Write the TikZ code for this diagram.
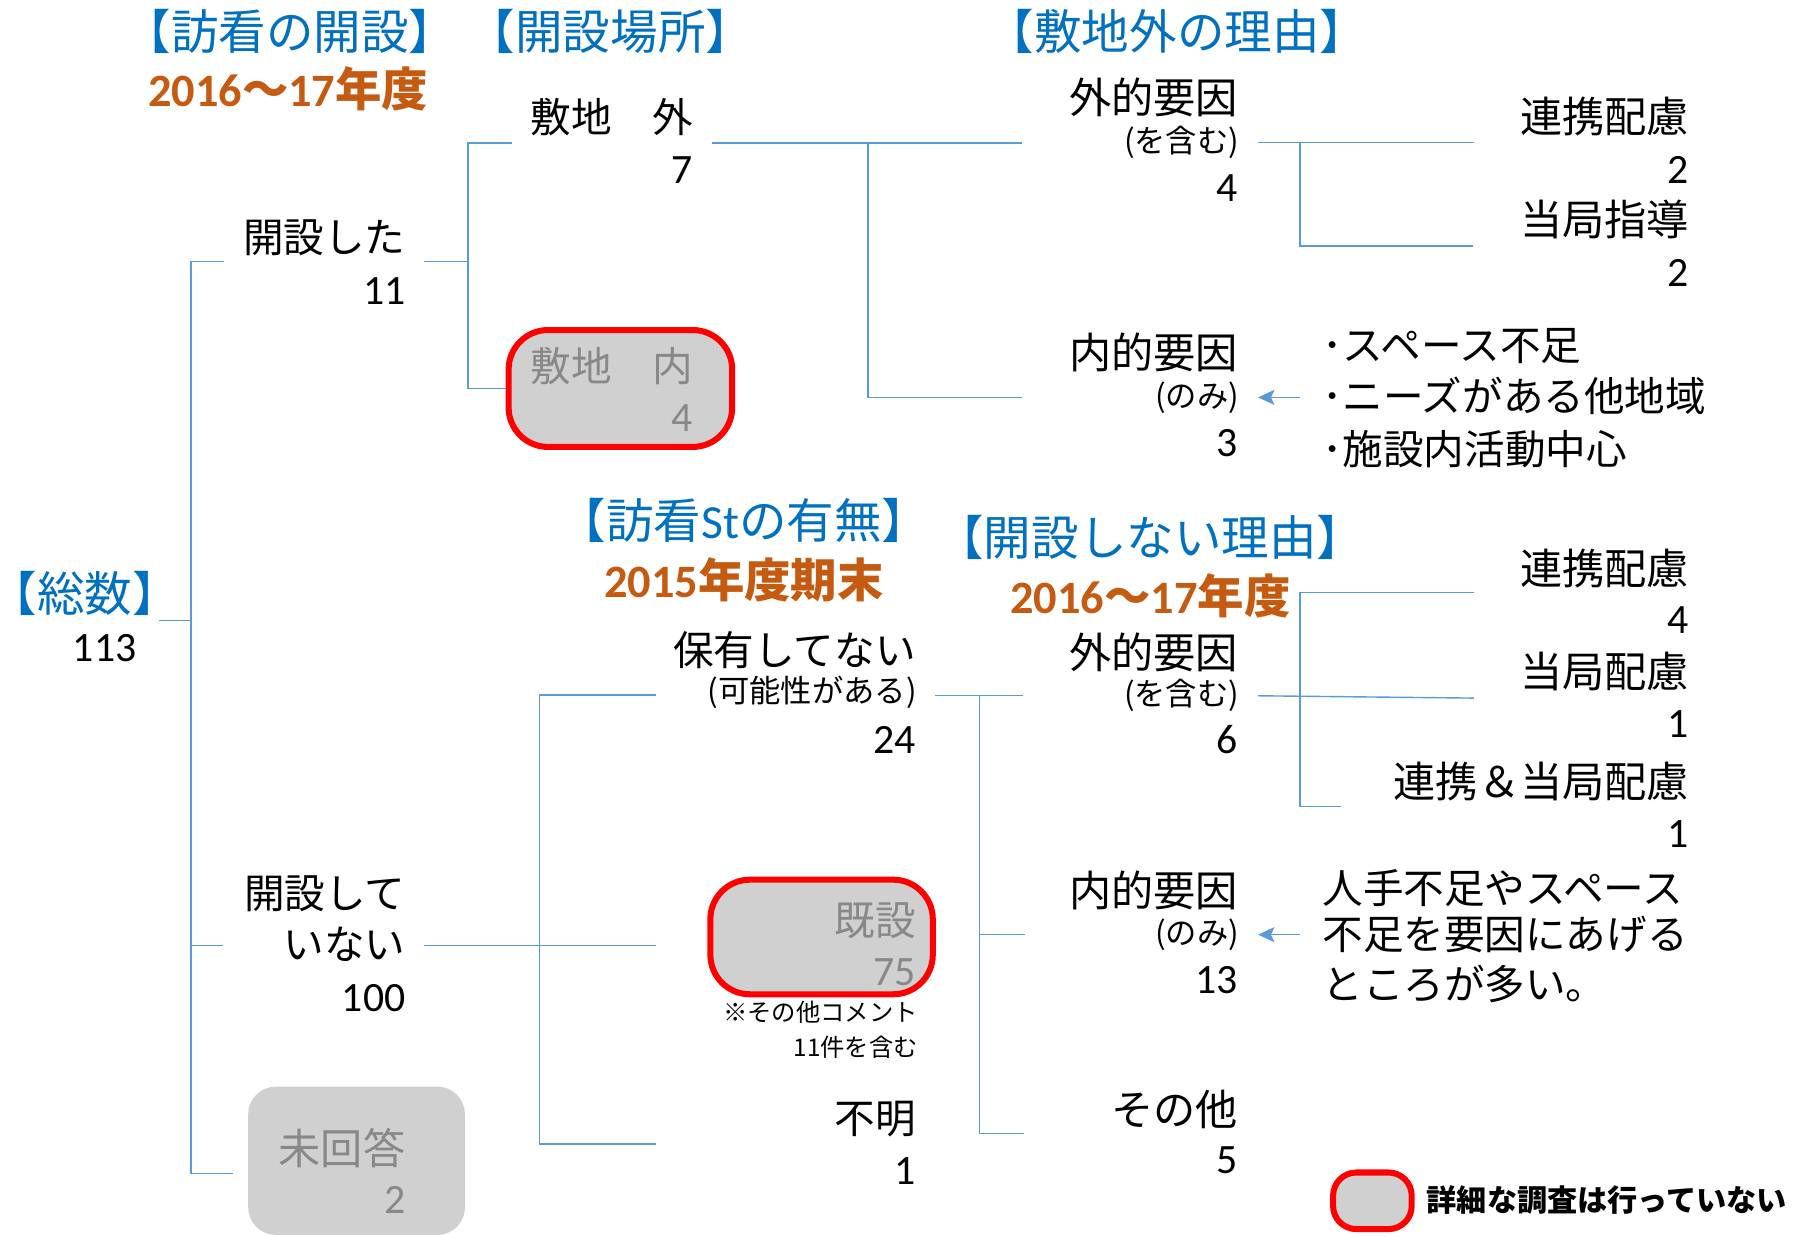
\documentclass[tikz,border=0pt]{standalone}
\usepackage{fontspec}
\setmainfont{Noto Sans CJK JP}
\newfontfamily\lat{Carlito}
\usetikzlibrary{arrows.meta}
\definecolor{hblue}{HTML}{0070C0}
\definecolor{horange}{HTML}{C55A11}
\definecolor{lblue}{HTML}{5B9BD5}
\definecolor{gfill}{HTML}{D0D0D0}
\definecolor{gtext}{HTML}{888888}
\definecolor{bred}{HTML}{FF0000}
\tikzset{
  lbl/.style={anchor=east, inner sep=0pt, font=\fontsize{17.5}{20}\selectfont},
  lblk/.style={anchor=east, inner sep=0pt, font=\fontsize{18.2}{20}\selectfont},
  num/.style={anchor=east, inner sep=0pt, font=\lat\fontsize{18}{20}\selectfont},
  sm/.style={anchor=east, inner sep=0pt, font=\fontsize{13.5}{15}\selectfont},
  xs/.style={anchor=east, inner sep=0pt, font=\fontsize{10.5}{12}\selectfont},
  note/.style={anchor=west, inner sep=0pt, font=\fontsize{17.5}{20}\selectfont},
  leg/.style={anchor=west, inner sep=0pt, font=\bfseries\fontsize{13}{15}\selectfont},
  hdr/.style={inner sep=0pt, text=hblue, font=\fontsize{20.5}{24}\selectfont},
  yr/.style={inner sep=0pt, text=horange, font=\bfseries\fontsize{20}{24}\selectfont},
  conn/.style={draw=lblue, line width=0.6pt},
  arr/.style={conn, -{Stealth[length=7pt, width=6.5pt, inset=1.5pt]}},
  redbox/.style={draw=bred, fill=gfill, line width=2.6pt, rounded corners=17pt, inner sep=0pt},
  greybox/.style={fill=gfill, rounded corners=12pt, inner sep=0pt},
}
\begin{document}
\begin{tikzpicture}[x=0.5pt, y=-0.5pt]
\fill[white] (0,0) rectangle (1560,1066.7);
\useasboundingbox (0,0) rectangle (1560,1066.7);

% ---------- connector coordinates ----------
\coordinate (A0) at (137,535);
\coordinate (A1) at (193,225.7);
\coordinate (A2) at (192,815.4);
\coordinate (A3) at (201,1012);
\coordinate (Aj) at (164.6,1012);

\coordinate (B0) at (366,225.7);
\coordinate (B1) at (441.5,123.4);
\coordinate (Bj) at (403.5,225.7);

\coordinate (C0) at (613.9,123.4);
\coordinate (C1) at (881,123.4);
\coordinate (Cj) at (748.5,123.4);
\coordinate (C2) at (881,342.7);

\coordinate (D0) at (1085,122.7);
\coordinate (D1) at (1271,122.7);
\coordinate (Dj) at (1121,122.7);
\coordinate (D2) at (1270,212);

\coordinate (E0) at (1121,342.7);
\coordinate (E1) at (1085,342.7);

\coordinate (F0) at (365.9,815.4);
\coordinate (F1) at (565.5,599.4);
\coordinate (F2) at (565.5,815.4);
\coordinate (F3) at (565.5,986.4);
\coordinate (Fj) at (465,815.4);

\coordinate (G0) at (806,600);
\coordinate (G1) at (882,600);
\coordinate (Gj) at (844.6,600);
\coordinate (G2) at (883.6,806);
\coordinate (G3) at (883,977.5);

\coordinate (H0) at (1085,600);
\coordinate (H1) at (1271,511);
\coordinate (H2) at (1271,602);
\coordinate (H3) at (1156,695.4);
\coordinate (Hj) at (1121,601);

\coordinate (I0) at (1121,806);
\coordinate (I1) at (1085,806);

% ---------- boxes ----------
\node[redbox, minimum width=96.4pt, minimum height=50.4pt] (nai) at (535,335) {};
\node[redbox, minimum width=95.9pt, minimum height=49.4pt] (kisetsu) at (708.5,808) {};
\node[greybox, minimum width=93.5pt, minimum height=64pt] (mikaitou) at (307.5,1001) {};
\node[redbox, rounded corners=10pt, minimum width=33.9pt, minimum height=24.4pt] (legbox) at (1183.5,1035.5) {};

% ---------- connectors ----------
\draw[conn] (A1) -| (Aj) -- (A3);
\draw[conn] (A0) -- (A0 -| Aj);
\draw[conn] (A2) -- (A2 -| Aj);

\draw[conn] (B0) -- (Bj);
\draw[conn] (B1) -| (Bj) |- (nai.west);

\draw[conn] (C0) -- (C1);
\draw[conn] (Cj) |- (C2);

\draw[conn] (D0) -- (D1);
\draw[conn] (Dj) |- (D2);
\draw[arr] (E0) -- (E1);

\draw[conn] (F0) -- (F2);
\draw[conn] (F1) -| (Fj) |- (F3);

\draw[conn] (G0) -- (G1);
\draw[conn] (Gj) |- (G3);
\draw[conn] (G2 -| Gj) -- (G2);

\draw[conn] (H0) -- (H2);
\draw[conn] (H1) -| (Hj) |- (H3);
\draw[arr] (I0) -- (I1);

% ---------- headers ----------
\node[hdr] (h-kaisetsu) at (250,27.3) {【訪看の開設】};
\node[yr] (y-kaisetsu) at (248.5,76.7) {{\lat 2016}～{\lat 17}年度};
\node[hdr] (h-basho) at (526.5,27) {【開設場所】};
\node[hdr] (h-shikichigai) at (1015,27.3) {【敷地外の理由】};
\node[hdr] (h-st) at (641.5,449) {【訪看{\lat St}の有無】};
\node[yr] (y-st) at (641.5,500) {{\lat 2015}年度期末};
\node[hdr] (h-shinai) at (992,463.7) {【開設しない理由】};
\node[yr] (y-shinai) at (992,514) {{\lat 2016}～{\lat 17}年度};
\node[hdr] (h-total) at (73,512) {【総数】};
\node[num] (n-total) at (118,559) {113};

% ---------- upper tree ----------
\node[lbl] (t-kaisetsu) at (350,204.6) {開設した};
\node[num] (n-kaisetsu) at (350,250.6) {11};
\node[lbl] (t-gai) at (598,100.6) {敷地　外};
\node[num] (n-gai) at (598,146.6) {7};
\node[lbl, text=gtext] (t-nai) at (598,315.4) {敷地　内};
\node[num, text=gtext] (n-nai) at (598,360.7) {4};
\node[lblk] (t-ext1) at (1068,84.3) {外的要因};
\node[sm] (s-ext1) at (1069,122.7) {(を含む)};
\node[num] (n-ext1) at (1068,162) {4};
\node[lblk] (t-renkei1) at (1457,100.6) {連携配慮};
\node[num] (n-renkei1) at (1457,146.6) {2};
\node[lblk] (t-shido) at (1457,189) {当局指導};
\node[num] (n-shido) at (1457,235) {2};
\node[lblk] (t-int1) at (1068,303.5) {内的要因};
\node[sm] (s-int1) at (1069,342.7) {(のみ)};
\node[num] (n-int1) at (1068,382) {3};
\node[note] (b1) at (1140,298) {･スペース不足};
\node[note] (b2) at (1140,341) {･ニーズがある他地域};
\node[note] (b3) at (1140,387) {･施設内活動中心};

% ---------- lower tree ----------
\node[lbl] (t-shinai1) at (350,770.8) {開設して};
\node[lbl] (t-shinai2) at (350,814) {いない};
\node[num] (n-shinai) at (350,860.7) {100};
\node[lbl] (t-hoyu) at (790,561) {保有してない};
\node[sm] (s-hoyu) at (791,597.4) {(可能性がある)};
\node[num] (n-hoyu) at (790,638) {24};
\node[lbl, text=gtext] (t-kisetsu) at (790,794) {既設};
\node[num, text=gtext] (n-kisetsu) at (790,838) {75};
\node[xs] (c1) at (792,873) {※その他コメント};
\node[xs] (c2) at (792,903) {11件を含む};
\node[lbl] (t-fumei) at (790,965.3) {不明};
\node[num] (n-fumei) at (790,1010) {1};
\node[lblk, text=gtext] (t-mikaitou) at (350,989.7) {未回答};
\node[num, text=gtext] (n-mikaitou) at (350,1035) {2};
\node[lblk] (t-ext2) at (1068,563) {外的要因};
\node[sm] (s-ext2) at (1069,600) {(を含む)};
\node[num] (n-ext2) at (1068,638) {6};
\node[lblk] (t-renkei2) at (1457,490) {連携配慮};
\node[num] (n-renkei2) at (1457,534.6) {4};
\node[lblk] (t-toukyoku) at (1457,579) {当局配慮};
\node[num] (n-toukyoku) at (1457,624.8) {1};
\node[lblk] (t-both) at (1457,673.5) {連携＆当局配慮};
\node[num] (n-both) at (1457,718.9) {1};
\node[lblk] (t-int2) at (1068,767.5) {内的要因};
\node[sm] (s-int2) at (1069,806) {(のみ)};
\node[num] (n-int2) at (1068,845) {13};
\node[note] (m1) at (1140,765.5) {人手不足やスペース};
\node[note] (m2) at (1140,806) {不足を要因にあげる};
\node[note] (m3) at (1140,848.6) {ところが多い。};
\node[lblk] (t-other) at (1068,956.8) {その他};
\node[num] (n-other) at (1068,1000.5) {5};
\node[leg] (legend) at (1230,1035) {詳細な調査は行っていない};
\end{tikzpicture}
\end{document}
